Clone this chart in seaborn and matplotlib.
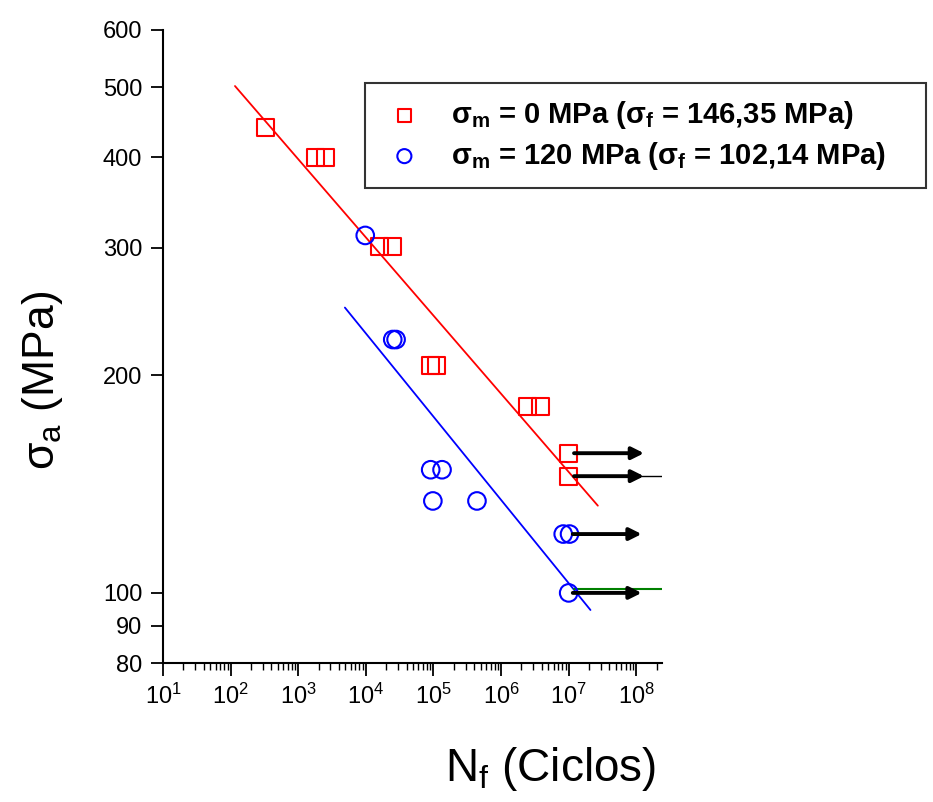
import numpy as np
import pandas as pd
import matplotlib
matplotlib.use("Agg")
import matplotlib.pyplot as plt
import matplotlib.ticker as mticker
import seaborn as sns

# style
sns.set_style("ticks")
plt.rcParams["font.family"] = ["Liberation Sans", "DejaVu Sans"]
plt.rcParams["mathtext.fontset"] = "custom"
plt.rcParams["mathtext.rm"] = "Liberation Sans"
plt.rcParams["mathtext.it"] = "Liberation Sans"
plt.rcParams["mathtext.bf"] = "Liberation Sans:bold"
plt.rcParams["text.color"] = "black"
plt.rcParams["axes.labelcolor"] = "black"
plt.rcParams["xtick.color"] = "black"
plt.rcParams["ytick.color"] = "black"

# data
# sigma_m = 0 MPa (red squares)
red_N = [323, 1780, 2500, 16000, 25000, 89000, 112000, 2.5e6, 3.8e6, 1.0e7, 1.0e7]
red_S = [440, 400, 400, 301, 301, 206, 206, 181, 181, 156, 145]
# sigma_m = 120 MPa (blue circles)
blue_N = [9800, 25000, 28000, 91000, 134000, 98000, 4.4e5, 8.3e6, 1.03e7, 1.0e7]
blue_S = [312, 224, 224, 148, 148, 134, 134, 120.6, 120.6, 100]

# fitted lines (end points)
red_fit_N = [116, 2.7e7]
red_fit_S = [502, 132]
blue_fit_N = [4900, 2.1e7]
blue_fit_S = [248, 94.7]

# run-outs (arrows)
runout_start = [1.2e7, 1.2e7, 1.15e7, 1.15e7]
runout_end = [1.3e8, 1.3e8, 1.2e8, 1.2e8]
runout_S = [156, 145, 120.6, 100]

red_label = "σ${}_{\\mathbf{m}}$ = 0 MPa (σ${}_{\\mathbf{f}}$ = 146,35 MPa)"
blue_label = "σ${}_{\\mathbf{m}}$ = 120 MPa (σ${}_{\\mathbf{f}}$ = 102,14 MPa)"

df_red = pd.DataFrame({"N": red_N, "S": red_S})
df_blue = pd.DataFrame({"N": blue_N, "S": blue_S})

fig = plt.figure(figsize=(9.33, 8.02), dpi=100)
ax = fig.add_axes([163 / 933, 1 - 663 / 802, (662 - 163) / 933, (663 - 30) / 802])

# fit lines
sns.lineplot(x=red_fit_N, y=red_fit_S, color="red", linewidth=1.3, ax=ax)
sns.lineplot(x=blue_fit_N, y=blue_fit_S, color="blue", linewidth=1.3, ax=ax)

# points
sns.scatterplot(data=df_red, x="N", y="S", marker="s", s=150, edgecolor="red",
                facecolor="none", linewidth=1.5, label=red_label, ax=ax, zorder=3)
sns.scatterplot(data=df_blue, x="N", y="S", marker="o", s=160, edgecolor="blue",
                facecolor="none", linewidth=1.5, label=blue_label, ax=ax, zorder=3)

# extra lines at right
ax.plot([1.2e7, 2.4e8], [145, 145], color="black", lw=1.0)
ax.plot([1.2e7, 2.4e8], [101.3, 101.3], color="green", lw=1.5)

# run-out arrows
for x0, x1, s in zip(runout_start, runout_end, runout_S):
    ax.annotate("", xy=(x1, s), xytext=(x0, s),
                arrowprops=dict(arrowstyle="-|>", color="black", lw=2.8,
                                mutation_scale=18, shrinkA=0, shrinkB=0))

ax.set_xscale("log")
ax.set_yscale("log")
ax.set_xlim(10, 2.4e8)
ax.set_ylim(80, 600)

ax.xaxis.set_major_locator(mticker.LogLocator(base=10, numticks=12))
ax.xaxis.set_minor_locator(mticker.LogLocator(base=10, subs=np.arange(2, 10), numticks=12))
ax.xaxis.set_major_formatter(mticker.LogFormatterMathtext())
ax.xaxis.set_minor_formatter(mticker.NullFormatter())

yticks = [80, 90, 100, 200, 300, 400, 500, 600]
ax.yaxis.set_major_locator(mticker.FixedLocator(yticks))
ax.yaxis.set_minor_locator(mticker.NullLocator())
ax.yaxis.set_major_formatter(mticker.FixedFormatter([str(t) for t in yticks]))

ax.tick_params(axis="both", which="major", labelsize=17, length=9, width=1.3,
               color="black", direction="out", pad=6)
ax.tick_params(axis="x", which="minor", length=5, width=1.0, color="black", direction="out")

sns.despine(ax=ax)
for sp in ["left", "bottom"]:
    ax.spines[sp].set_linewidth(1.5)
    ax.spines[sp].set_color("black")

ax.set_xlabel("N$_\\mathrm{f}$ (Ciclos)", fontsize=33)
ax.set_ylabel("σ$_\\mathrm{a}$ (MPa)", fontsize=32)
ax.xaxis.set_label_coords(0.776, -0.13)
ax.yaxis.set_label_coords(-0.196, 0.447)

leg = ax.legend(loc="upper left",
                bbox_to_anchor=(365 / 933, 1 - 187 / 802, (926 - 365) / 933, 104 / 802),
                bbox_transform=fig.transFigure, mode="expand", frameon=True, fancybox=False,
                prop={"weight": "bold", "size": 21}, borderpad=0.55,
                handletextpad=0.8, labelspacing=0.3, borderaxespad=0,
                handlelength=1.6, markerscale=0.8)
leg.get_frame().set_edgecolor("black")
leg.get_frame().set_linewidth(1.5)

plt.savefig("out.png", dpi=100)
